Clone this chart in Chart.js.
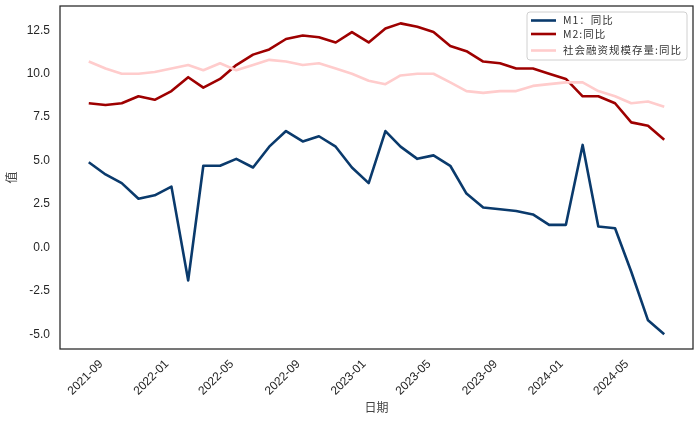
<!DOCTYPE html>
<html><head><meta charset="utf-8">
<script src="https://cdn.jsdelivr.net/npm/chart.js@4.4.1/dist/chart.umd.min.js"></script>
<style>html,body{margin:0;padding:0;background:#fff;}canvas{display:block;}</style>
</head><body>
<canvas id="c" width="700" height="421"></canvas>
<script>
const categories = ['2021-07','2021-08','2021-09','2021-10','2021-11','2021-12',
  '2022-01','2022-02','2022-03','2022-04','2022-05','2022-06','2022-07','2022-08','2022-09','2022-10','2022-11','2022-12',
  '2023-01','2023-02','2023-03','2023-04','2023-05','2023-06','2023-07','2023-08','2023-09','2023-10','2023-11','2023-12',
  '2024-01','2024-02','2024-03','2024-04','2024-05','2024-06'];
const m1 = [4.9,4.2,3.7,2.8,3.0,3.5,-1.9,4.7,4.7,5.1,4.6,5.8,6.7,6.1,6.4,5.8,4.6,3.7,
  6.7,5.8,5.1,5.3,4.7,3.1,2.3,2.2,2.1,1.9,1.3,1.3,5.9,1.2,1.1,-1.4,-4.2,-5.0];
const m2 = [8.3,8.2,8.3,8.7,8.5,9.0,9.8,9.2,9.7,10.5,11.1,11.4,12.0,12.2,12.1,11.8,12.4,11.8,
  12.6,12.9,12.7,12.4,11.6,11.3,10.7,10.6,10.3,10.3,10.0,9.7,8.7,8.7,8.3,7.2,7.0,6.2];
const sf = [10.7,10.3,10.0,10.0,10.1,10.3,10.5,10.2,10.6,10.2,10.5,10.8,10.7,10.5,10.6,10.3,10.0,9.6,
  9.4,9.9,10.0,10.0,9.5,9.0,8.9,9.0,9.0,9.3,9.4,9.5,9.5,9.0,8.7,8.3,8.4,8.1];
const seriesNames = ['M1：同比','M2:同比','社会融资规模存量:同比'];
const seriesColors = ['#0a3a6c','#9e0000','#ffcccc'];
const tickLabels = ['2021-09','2022-01','2022-05','2022-09','2023-01','2023-05','2023-09','2024-01','2024-05'];
const yTickValues = [-5.0,-2.5,0.0,2.5,5.0,7.5,10.0,12.5];
const yMin = -5.85, yMax = 13.9;

const DAY = 86400000;
function monthEnd(s){const [y,m]=s.split('-').map(Number);return Date.UTC(y,m,0)/DAY;}
function monthStart(s){const [y,m]=s.split('-').map(Number);return Date.UTC(y,m-1,1)/DAY;}
const xs = categories.map(monthEnd);
const tickPos = tickLabels.map(monthStart);
const span = xs[xs.length-1]-xs[0];
const xMin = xs[0]-0.05*span, xMax = xs[xs.length-1]+0.05*span;

const seriesData = [m1,m2,sf];
const datasets = seriesData.map((arr,i)=>({
  label: seriesNames[i],
  data: arr.map((v,j)=>({x:xs[j],y:v})),
  borderColor: seriesColors[i],
  backgroundColor: seriesColors[i],
  borderWidth: 2.6,
  pointRadius: 0,
  tension: 0,
  fill: false,
  borderJoinStyle: 'round',
  borderCapStyle: 'butt',
  order: 3-i
}));

const tickFont = {family:'"Liberation Sans", Arial, sans-serif', size:12};
const cjkFont = {family:'"Noto Sans CJK SC", sans-serif', size:12};
const textColor = '#262626';

const framePlugin = {
  id:'frame',
  afterDraw(chart){
    const {ctx, chartArea:a} = chart;
    ctx.save();
    ctx.strokeStyle = '#262626';
    ctx.lineWidth = 1.25;
    ctx.strokeRect(a.left, a.top, a.right-a.left, a.bottom-a.top);
    // legend
    const bx = a.right - 166, by = a.top + 6, bw = 160, bh = 48;
    ctx.globalAlpha = 0.8;
    ctx.fillStyle = '#ffffff';
    ctx.beginPath();
    ctx.roundRect(bx, by, bw, bh, 3);
    ctx.fill();
    ctx.globalAlpha = 1;
    ctx.strokeStyle = '#d0d0d0';
    ctx.lineWidth = 1;
    ctx.stroke();
    const rows = [by+8.5, by+22, by+38.5];
    ctx.font = '10.5px "Noto Sans CJK SC", sans-serif';
    ctx.letterSpacing = '1px';
    ctx.textBaseline = 'middle';
    ctx.textAlign = 'left';
    chart.data.datasets.forEach((ds,i)=>{
      ctx.strokeStyle = ds.borderColor;
      ctx.lineWidth = 2.6;
      ctx.beginPath();
      ctx.moveTo(bx+4, rows[i]);
      ctx.lineTo(bx+29, rows[i]);
      ctx.stroke();
      ctx.fillStyle = '#333333';
      ctx.fillText(ds.label, bx+36, rows[i]);
    });
    ctx.restore();
  }
};

new Chart(document.getElementById('c'), {
  type:'line',
  data:{datasets},
  options:{
    responsive:false,
    animation:false,
    devicePixelRatio:1,
    layout:{padding:{top:6,right:7,left:0,bottom:0}},
    plugins:{legend:{display:false},tooltip:{enabled:false}},
    scales:{
      x:{
        type:'linear', min:xMin, max:xMax,
        grid:{display:false, drawTicks:false},
        border:{display:false},
        afterBuildTicks(scale){scale.ticks = tickPos.map(v=>({value:v}));},
        afterFit(scale){scale.height = 72; scale.paddingLeft = 0; scale.paddingRight = 0;},
        ticks:{autoSkip:false, maxRotation:45, minRotation:45, padding:8, labelOffset:-5, color:textColor, font:tickFont,
          callback(v,i){return tickLabels[i];}},
        title:{display:true, text:'日期', color:'#444', font:cjkFont, padding:{top:0,bottom:6}}
      },
      y:{
        type:'linear', min:yMin, max:yMax,
        grid:{display:false, drawTicks:false},
        border:{display:false},
        afterBuildTicks(scale){scale.ticks = yTickValues.map(v=>({value:v}));},
        afterFit(scale){scale.width = 60; scale.paddingTop = 0; scale.paddingBottom = 0;},
        ticks:{padding:10, color:textColor, font:tickFont, callback(v){return Number(v).toFixed(1);}},
        title:{display:true, text:'值', color:'#444', font:cjkFont, padding:{top:4,bottom:0}}
      }
    }
  },
  plugins:[framePlugin]
});
</script>
</body></html>
